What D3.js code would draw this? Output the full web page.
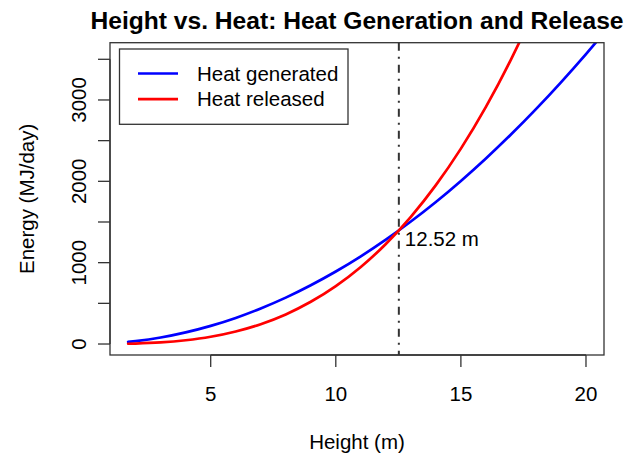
<!DOCTYPE html>
<html>
<head>
<meta charset="utf-8">
<script src="https://cdn.jsdelivr.net/npm/d3@7"></script>
<style>
  html, body { margin: 0; padding: 0; background: #fff; }
  svg { display: block; }
  text { font-family: "Liberation Sans", Arial, Helvetica, sans-serif; fill: #000; }
</style>
</head>
<body>
<svg id="chart" width="641" height="457"></svg>
<script>
// ---- data ----
const heights = [1.7, 2, 3, 4, 5, 6, 7, 8, 9, 10, 11, 12, 13, 14, 15, 16, 17, 18, 19, 20, 21];
const heatGenerated = [26, 36, 80, 143, 223, 321, 437, 570, 722, 891, 1078, 1283, 1506, 1746, 2005, 2281, 2575, 2887, 3217, 3564, 3929];
const heatReleased  = [3.5, 5.7, 19, 46, 89, 154, 244, 364, 519, 712, 947, 1230, 1564, 1953, 2402, 2915, 3497, 4151, 4881, 5693, 6591];
const crossHeight = 12.52;
const crossEnergy = 1393;
const crossLabel = "12.52 m";
const xTicks = [5, 10, 15, 20];
const yTicks = [0, 500, 1000, 1500, 2000, 2500, 3000, 3500];
const yTickLabels = [0, 1000, 2000, 3000];
const seriesNames = ["Heat generated", "Heat released"];
const seriesColors = ["#0000ff", "#ff0000"];
const titleText = "Height vs. Heat: Heat Generation and Release";
const xTitle = "Height (m)";
const yTitle = "Energy (MJ/day)";

// ---- layout ----
const plot = { left: 110, right: 604, top: 42.7, bottom: 355 };
const x = d3.scaleLinear().domain([0.975, 20.72]).range([plot.left, plot.right]);
const y = d3.scaleLinear().domain([-135, 3704]).range([plot.bottom, plot.top]);

const svg = d3.select("#chart");
const axisColor = "#333";
const fs = "20.5px";

svg.append("defs").append("clipPath").attr("id", "clip")
  .append("rect")
  .attr("x", plot.left).attr("y", plot.top)
  .attr("width", plot.right - plot.left).attr("height", plot.bottom - plot.top);

// title
svg.append("text")
  .attr("x", (plot.left + plot.right) / 2).attr("y", 29)
  .attr("text-anchor", "middle")
  .style("font-size", "24.6px").style("font-weight", "bold")
  .text(titleText);

// series lines
const line = d3.line().x(d => x(d[0])).y(d => y(d[1])).curve(d3.curveMonotoneX);
const series = [heatGenerated, heatReleased];
const g = svg.append("g").attr("clip-path", "url(#clip)");
series.forEach((vals, i) => {
  g.append("path")
    .datum(heights.map((h, j) => [h, vals[j]]))
    .attr("d", line)
    .attr("fill", "none")
    .attr("stroke", seriesColors[i])
    .attr("stroke-width", 2.7)
    .attr("stroke-linecap", "round")
    .attr("stroke-linejoin", "round");
});

// vertical dot-dash line
svg.append("line")
  .attr("x1", x(crossHeight)).attr("x2", x(crossHeight))
  .attr("y1", plot.top).attr("y2", plot.bottom)
  .attr("stroke", "#333").attr("stroke-width", 2)
  .attr("stroke-dasharray", "8,6,2,6");

// label
svg.append("text")
  .attr("x", x(crossHeight) + 6).attr("y", y(crossEnergy) + 15)
  .style("font-size", fs)
  .text(crossLabel);

// box
svg.append("rect")
  .attr("x", plot.left).attr("y", plot.top)
  .attr("width", plot.right - plot.left).attr("height", plot.bottom - plot.top)
  .attr("fill", "none").attr("stroke", axisColor).attr("stroke-width", 1.3);

// x axis
const xAxis = svg.append("g");
xAxis.append("line")
  .attr("x1", x(xTicks[0])).attr("x2", x(xTicks[xTicks.length - 1]))
  .attr("y1", plot.bottom).attr("y2", plot.bottom)
  .attr("stroke", axisColor).attr("stroke-width", 1.3);
xTicks.forEach(t => {
  xAxis.append("line")
    .attr("x1", x(t)).attr("x2", x(t))
    .attr("y1", plot.bottom).attr("y2", plot.bottom + 12)
    .attr("stroke", axisColor).attr("stroke-width", 1.3);
  xAxis.append("text")
    .attr("x", x(t)).attr("y", 401)
    .attr("text-anchor", "middle")
    .style("font-size", fs)
    .text(t);
});

// y axis
const yAxis = svg.append("g");
yAxis.append("line")
  .attr("x1", plot.left).attr("x2", plot.left)
  .attr("y1", y(yTicks[0])).attr("y2", y(yTicks[yTicks.length - 1]))
  .attr("stroke", axisColor).attr("stroke-width", 1.3);
yTicks.forEach(t => {
  yAxis.append("line")
    .attr("x1", plot.left - 12).attr("x2", plot.left)
    .attr("y1", y(t)).attr("y2", y(t))
    .attr("stroke", axisColor).attr("stroke-width", 1.3);
});
yTickLabels.forEach(t => {
  yAxis.append("text")
    .attr("transform", `translate(86,${y(t)}) rotate(-90)`)
    .attr("text-anchor", "middle")
    .style("font-size", fs)
    .text(t);
});

// axis titles
svg.append("text")
  .attr("x", (plot.left + plot.right) / 2).attr("y", 449)
  .attr("text-anchor", "middle")
  .style("font-size", fs)
  .text(xTitle);
svg.append("text")
  .attr("transform", `translate(34,${(plot.top + plot.bottom) / 2}) rotate(-90)`)
  .attr("text-anchor", "middle")
  .style("font-size", fs)
  .text(yTitle);

// legend
const lg = svg.append("g");
lg.append("rect")
  .attr("x", 119.5).attr("y", 49).attr("width", 228.5).attr("height", 75.3)
  .attr("fill", "#fff").attr("stroke", axisColor).attr("stroke-width", 1.3);
seriesNames.forEach((name, i) => {
  const ly = 73.5 + i * 25.7;
  lg.append("line")
    .attr("x1", 138).attr("x2", 178)
    .attr("y1", ly).attr("y2", ly)
    .attr("stroke", seriesColors[i]).attr("stroke-width", 2.7);
  lg.append("text")
    .attr("x", 197).attr("y", ly + 7)
    .style("font-size", fs)
    .text(name);
});
</script>
</body>
</html>
